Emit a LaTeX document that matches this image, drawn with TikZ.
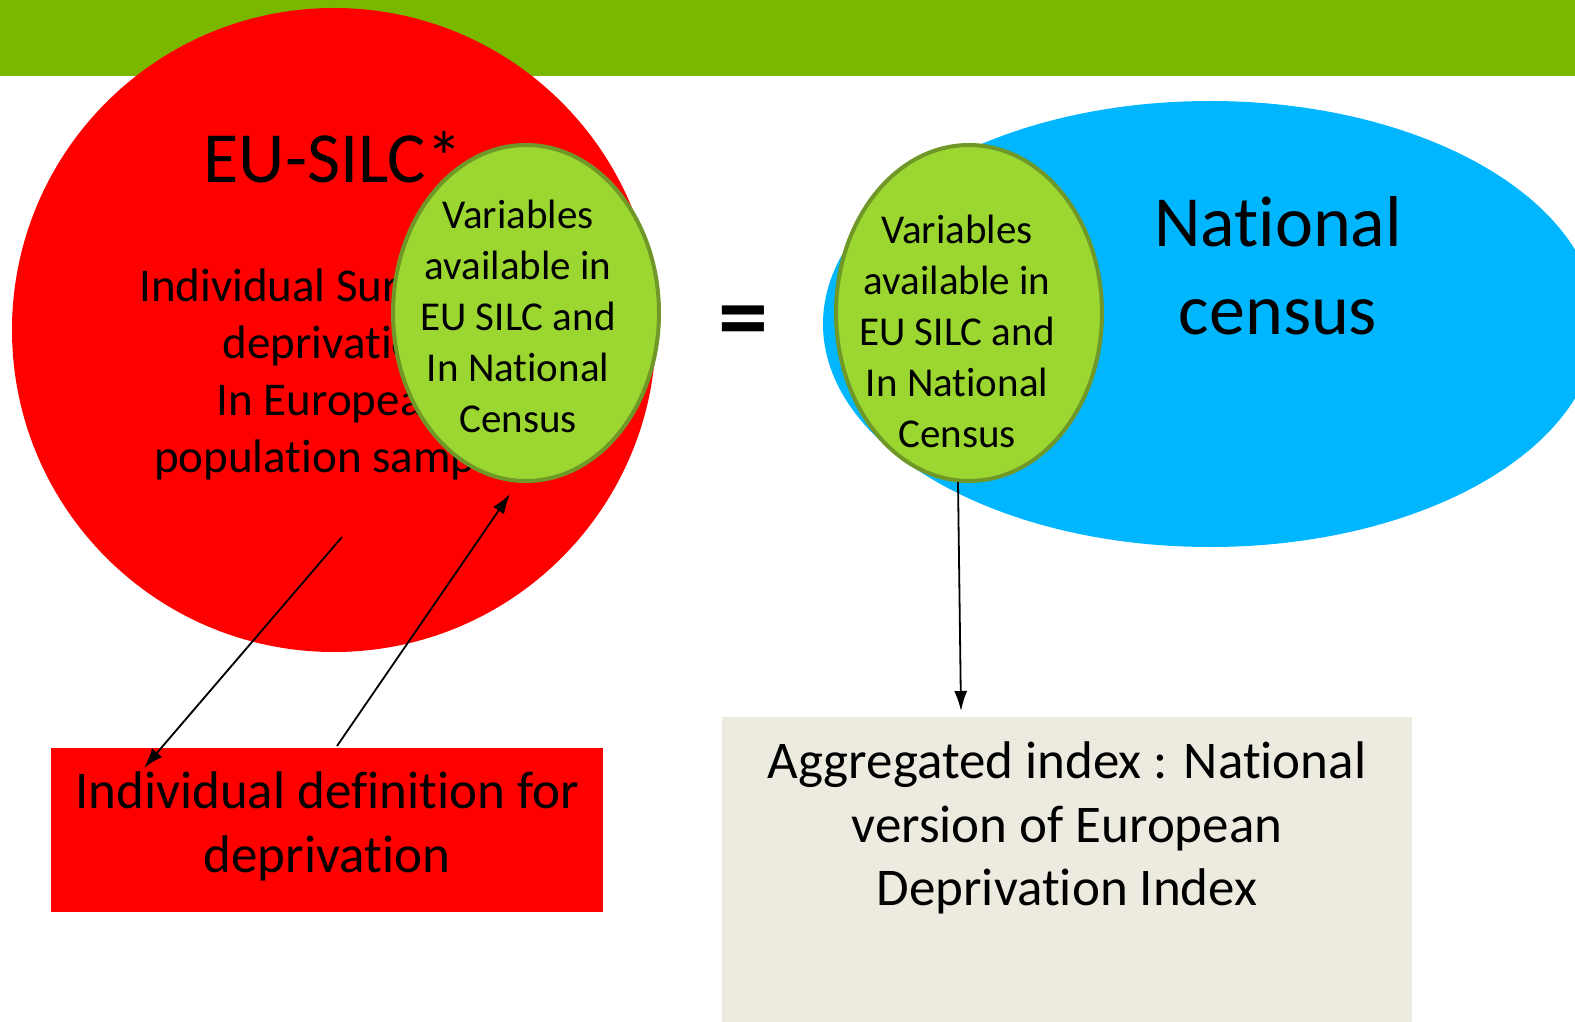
\documentclass[tikz,border=0pt]{standalone}
\usepackage{fontspec}
\setmainfont{Carlito}[Ligatures={NoCommon,NoContextual},RawFeature={-liga;-clig;-calt}]
\usetikzlibrary{arrows.meta,shapes.geometric}

\definecolor{barGreen}{RGB}{122,184,0}
\definecolor{silcRed}{RGB}{255,0,0}
\definecolor{censusBlue}{RGB}{0,183,255}
\definecolor{varGreen}{RGB}{155,215,48}
\definecolor{varEdge}{RGB}{112,152,40}
\definecolor{indexTan}{RGB}{237,235,224}

\tikzset{
  varset/.style={ellipse,draw=varEdge,line width=4pt,fill=varGreen,
    minimum width=266pt,minimum height=336pt,inner sep=0pt},
  vartext/.style={align=center,font=\fontsize{41}{51}\selectfont},
  bigtitle/.style={align=center,font=\fontsize{72}{88}\selectfont},
  boxtext/.style={align=center,font=\fontsize{53}{64}\selectfont},
  link/.style={-{Latex[length=20pt,width=13pt]},line width=1.8pt},
}

\begin{document}
\begin{tikzpicture}[x=1pt,y=-1pt]
  \useasboundingbox (0,0) rectangle (1575,1022);
  \fill[barGreen] (0,0) rectangle (1575,76);

  % EU-SILC side
  \node[circle,fill=silcRed,minimum size=644pt,inner sep=0pt] (silc) at (334,330) {};
  \node[bigtitle] (silcTitle) at (333,157) {EU-SILC*};
  \node[align=center,font=\fontsize{47}{57}\selectfont] (silcText) at (332,374)
    {Individual Survey on\\deprivation\\In European\\population sample};
  \node[varset] (varsL) at (526,313) {};
  \node[vartext] (varsLText) at (518,316)
    {Variables\\available in\\EU SILC and\\In National\\Census};

  \node[font=\fontsize{100}{100}\selectfont\bfseries] (equals) at (743,328) {=};

  % census side
  \node[ellipse,fill=censusBlue,minimum width=774pt,minimum height=446pt,inner sep=0pt]
    (census) at (1210,324) {};
  \node[bigtitle] (censusTitle) at (1278,266) {National\\census};
  \node[varset] (varsR) at (969,313) {};
  \node[vartext] (varsRText) at (957,331)
    {Variables\\available in\\EU SILC and\\In National\\Census};

  % boxes
  \node[fill=silcRed,minimum width=552pt,minimum height=164pt,inner sep=0pt]
    (defbox) at (327,830) {};
  \node[boxtext] (defText) at (327,826) {Individual definition for\\deprivation};
  \node[fill=indexTan,minimum width=690pt,minimum height=320pt,inner sep=0pt]
    (indexbox) at (1067,877) {};
  \node[boxtext,font=\fontsize{53}{63.5}\selectfont] (indexText) at (1067,828)
    {Aggregated index : National\\version of European\\Deprivation Index};

  % arrows
  \coordinate (silcFoot) at (342,537);
  \coordinate (defCorner) at (144,768);
  \coordinate (defTop) at (337,746);
  \coordinate (varsLFoot) at (510,494);
  \coordinate (varsRFoot) at (958,482);
  \coordinate (indexTop) at (961,711);
  \draw[link] (silcFoot) -- (defCorner);
  \draw[link] (defTop) -- (varsLFoot);
  \draw[link] (varsRFoot) -- (indexTop);
\end{tikzpicture}
\end{document}
